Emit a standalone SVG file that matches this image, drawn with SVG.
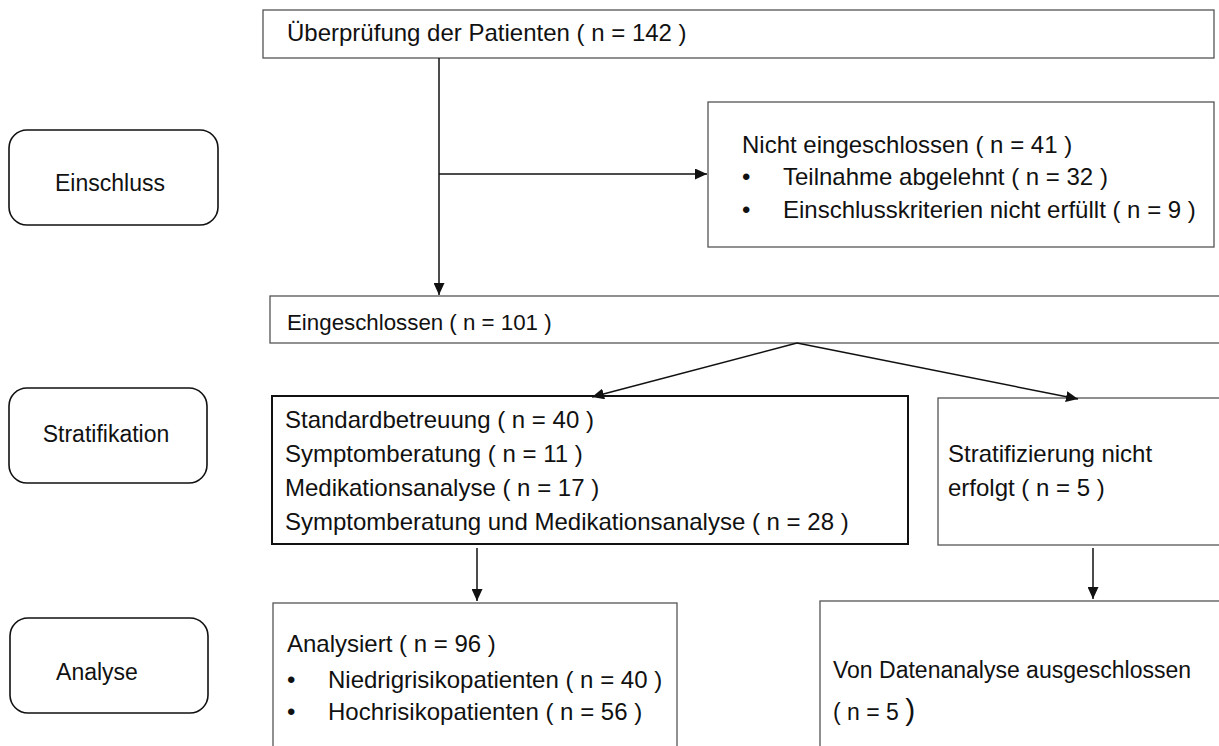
<svg xmlns="http://www.w3.org/2000/svg" width="1219" height="746" viewBox="0 0 1219 746">
<style>
.box{fill:#fff;stroke:#555;stroke-width:1.3}
.bold{fill:#fff;stroke:#111;stroke-width:2}
.phase{fill:#fff;stroke:#111;stroke-width:1.6}
text{font-family:"Liberation Sans",Arial,sans-serif;font-size:24px;fill:#111}
text.s23{font-size:23px}
text.s22{font-size:22.3px}
.c{text-anchor:middle}
.edge{stroke:#111;stroke-width:1.5;fill:none}
</style>
<defs>
<marker id="ah" markerUnits="userSpaceOnUse" markerWidth="13" markerHeight="11" refX="12" refY="5.5" orient="auto">
<path d="M0,0 L12,5.5 L0,11 Z" fill="#111"/>
</marker>
</defs>
<g id="phase-einschluss"><rect class="phase" x="9" y="130" width="209" height="95" rx="18"/><text class="c s23" x="110" y="191">Einschluss</text></g>
<g id="phase-stratifikation"><rect class="phase" x="9" y="388" width="198" height="95" rx="18"/><text class="c s23" x="106" y="442">Stratifikation</text></g>
<g id="phase-analyse"><rect class="phase" x="10" y="618" width="198" height="95" rx="18"/><text class="c s23" x="97" y="680">Analyse</text></g>
<g id="screening"><rect class="box" x="263" y="10" width="951" height="48"/><text x="287" y="41">Überprüfung der Patienten ( n = 142 )</text></g>
<g id="excluded"><rect class="box" x="708" y="102" width="506" height="145"/>
<text x="742" y="153">Nicht eingeschlossen ( n = 41 )</text>
<text x="742" y="185">•</text><text x="783" y="185">Teilnahme abgelehnt ( n = 32 )</text>
<text x="742" y="218">•</text><text x="783" y="218">Einschlusskriterien nicht erfüllt ( n = 9 )</text></g>
<g id="included"><rect class="box" x="270" y="296" width="960" height="47"/><text class="s22" x="287" y="330">Eingeschlossen ( n = 101 )</text></g>
<g id="strat"><rect class="bold" x="272" y="396" width="636" height="148"/>
<text x="285" y="428">Standardbetreuung ( n = 40 )</text>
<text x="285" y="462">Symptomberatung ( n = 11 )</text>
<text x="285" y="496">Medikationsanalyse ( n = 17 )</text>
<text x="285" y="530">Symptomberatung und Medikationsanalyse ( n = 28 )</text></g>
<g id="notstrat"><rect class="box" x="938" y="398" width="300" height="147"/>
<text x="948" y="462">Stratifizierung nicht</text>
<text x="948" y="496">erfolgt ( n = 5 )</text></g>
<g id="analysed"><rect class="box" x="273" y="603" width="404" height="160"/>
<text x="287" y="652">Analysiert ( n = 96 )</text>
<text x="287" y="688">•</text><text x="328" y="688">Niedrigrisikopatienten ( n = 40 )</text>
<text x="287" y="720">•</text><text x="328" y="720">Hochrisikopatienten ( n = 56 )</text></g>
<g id="dataexcl"><rect class="box" x="820" y="601" width="420" height="160"/>
<text class="s23" x="833" y="678">Von Datenanalyse ausgeschlossen</text>
<text class="s23" x="833" y="720">( n = 5 <tspan style="font-size:30px">)</tspan></text></g>
<g id="connectors">
<line class="edge" x1="439" y1="58" x2="439" y2="295" marker-end="url(#ah)"/>
<line class="edge" x1="439" y1="174" x2="707" y2="174" marker-end="url(#ah)"/>
<line class="edge" x1="797" y1="343" x2="592" y2="397" marker-end="url(#ah)"/>
<line class="edge" x1="797" y1="343" x2="1078" y2="399" marker-end="url(#ah)"/>
<line class="edge" x1="477" y1="548" x2="477" y2="601" marker-end="url(#ah)"/>
<line class="edge" x1="1093" y1="548" x2="1093" y2="599" marker-end="url(#ah)"/>
</g>
</svg>
